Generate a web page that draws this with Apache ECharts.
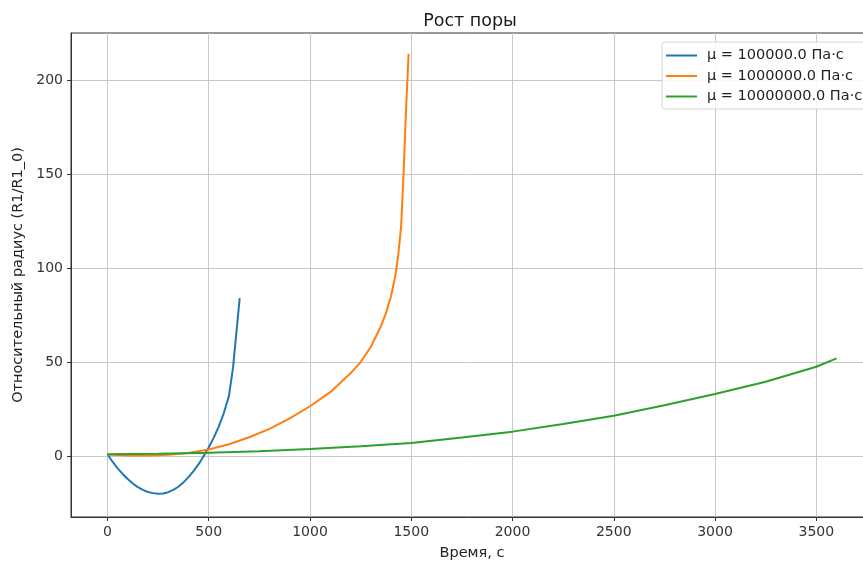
<!DOCTYPE html>
<html>
<head>
<meta charset="utf-8">
<script src="https://cdn.jsdelivr.net/npm/echarts@6/dist/echarts.min.js"></script>
<style>
  html, body { margin: 0; padding: 0; background: #fff; overflow: hidden; }
  #chart { width: 863px; height: 563px; }
</style>
</head>
<body>
<div id="chart"></div>
<script>
// time (s) and relative radius R1/R1_0 for each viscosity
const blueT = [0, 25, 50, 75, 100, 125, 150, 175, 200, 225, 250, 275, 300, 325, 350, 375, 400, 425, 450, 475, 500, 525, 550, 575, 600, 620, 653];
const blueR = [1, -3, -6.5, -9.5, -12.2, -14.6, -16.5, -18, -19.1, -19.7, -20, -19.9, -19.2, -18, -16.3, -14, -11.2, -8, -4.3, 0, 4.6, 9.8, 15.8, 23, 32, 47, 84];

const orangeT = [0, 100, 200, 300, 400, 500, 600, 700, 800, 900, 1000, 1100, 1200, 1250, 1300, 1350, 1375, 1400, 1420, 1435, 1450, 1462, 1475, 1487];
const orangeR = [0.8, 0.3, 0.3, 0.7, 1.7, 3.5, 6.3, 10, 14.5, 20, 26.5, 34, 44, 50, 58, 69, 76, 85, 95, 106, 122, 150, 186, 214];

const greenT = [0, 250, 500, 750, 1000, 1250, 1500, 1750, 2000, 2250, 2500, 2750, 3000, 3250, 3500, 3600];
const greenR = [1, 1.3, 1.8, 2.6, 3.7, 5.2, 7, 9.9, 13, 17, 21.5, 27, 33, 39.5, 47.5, 52];

const seriesNames = ['μ = 100000.0 Па·с', 'μ = 1000000.0 Па·с', 'μ = 10000000.0 Па·с'];
const seriesColors = ['#1f77b4', '#ff7f0e', '#2ca02c'];

const xTicks = [0, 500, 1000, 1500, 2000, 2500, 3000, 3500];
const yTicks = [0, 50, 100, 150, 200];

const zip = (a, b) => a.map((v, i) => [v, b[i]]);
const seriesData = [zip(blueT, blueR), zip(orangeT, orangeR), zip(greenT, greenR)];

const font = 'DejaVu Sans';
const chart = echarts.init(document.getElementById('chart'), null, { renderer: 'canvas' });

chart.setOption({
  animation: false,
  backgroundColor: '#fff',
  textStyle: { fontFamily: font },
  title: {
    text: 'Рост поры',
    left: 465, top: 7, textAlign: 'center',
    textStyle: { fontFamily: font, fontSize: 17.5, fontWeight: 'normal', color: '#1a1a1a' }
  },
  // plot box runs past the right edge of the picture, like the cropped original
  grid: {
    left: 71, width: 802, top: 33, height: 484,
    outerBoundsMode: 'none', containLabel: false,
    show: true, borderColor: '#333', borderWidth: 1, backgroundColor: 'transparent'
  },
  legend: {
    orient: 'vertical', left: 662, top: 42,
    icon: 'rect', itemWidth: 31, itemHeight: 2, itemGap: 3.5,
    padding: [5, 10, 4, 4],
    backgroundColor: 'rgba(255,255,255,0.85)', borderColor: '#d5d5d5', borderWidth: 1, borderRadius: 3,
    textStyle: { fontFamily: font, fontSize: 14.5, color: '#222', lineHeight: 17, padding: [0, 0, 0, 5] },
    data: seriesNames
  },
  xAxis: {
    type: 'value', min: -180, max: 3780,
    name: 'Время, с', nameLocation: 'middle', nameGap: 29,
    nameTextStyle: { fontFamily: font, fontSize: 14.5, color: '#222' },
    axisLine: { show: true, onZero: false, lineStyle: { color: '#333' } },
    axisTick: { show: true, length: 4, lineStyle: { color: '#333' }, customValues: xTicks },
    axisLabel: { fontFamily: font, fontSize: 14, color: '#333', margin: 8, customValues: xTicks, formatter: v => String(v) },
    splitLine: { show: true, lineStyle: { color: '#c8c8c8', width: 1 } }
  },
  yAxis: {
    type: 'value', min: -32.4, max: 225,
    name: 'Относительный радиус (R1/R1_0)', nameLocation: 'middle', nameGap: 45,
    nameTextStyle: { fontFamily: font, fontSize: 14.5, color: '#222' },
    axisLine: { show: true, onZero: false, lineStyle: { color: '#333' } },
    axisTick: { show: true, length: 4, lineStyle: { color: '#333' }, customValues: yTicks },
    axisLabel: { fontFamily: font, fontSize: 14, color: '#333', margin: 8, customValues: yTicks, formatter: v => String(v) },
    splitLine: { show: true, lineStyle: { color: '#c8c8c8', width: 1 } }
  },
  series: seriesData.map((d, i) => ({
    name: seriesNames[i],
    type: 'line',
    data: d,
    symbol: 'none',
    color: seriesColors[i],
    lineStyle: { color: seriesColors[i], width: 2 }
  }))
});
</script>
</body>
</html>
